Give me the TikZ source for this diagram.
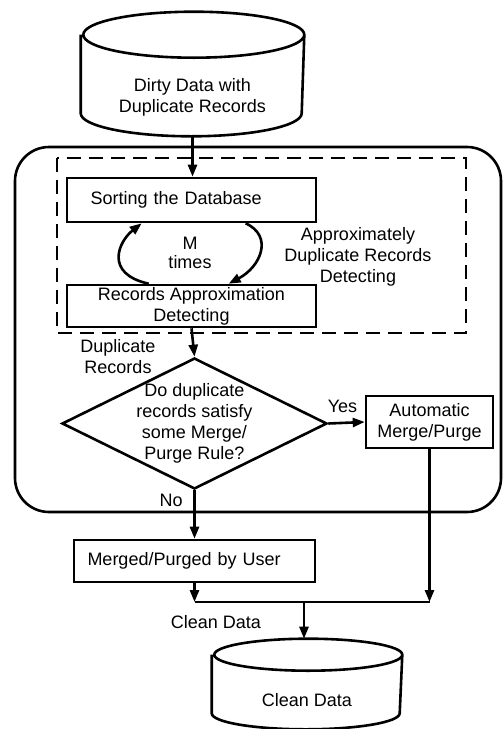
\documentclass[tikz,border=0pt]{standalone}
\usepackage{fontspec}
\setmainfont{Liberation Sans}
\usetikzlibrary{arrows.meta,positioning,calc,shapes.geometric}

% drum outline round a store node: #1 node, #2 x radius, #3 y radius
\newcommand\drum[3]{%
  \draw ([yshift=#3]#1.north west) -- ([yshift=#3]#1.south west)
    arc[start angle=180, end angle=360, x radius=#2, y radius=#3]
    -- ([yshift=#3]#1.north east)
    arc[start angle=0, end angle=360, x radius=#2, y radius=#3];}

\begin{document}
\begin{tikzpicture}[x=0.5pt, y=-0.5pt, line width=1.3pt,
  font=\fontsize{9}{10.5}\selectfont,
  >={Triangle[length=6pt,width=4.5pt]},
  box/.style={draw, rectangle, inner sep=0pt},
  store/.style={rectangle, inner sep=0pt, align=center},
  decide/.style={draw, diamond, aspect=2, inner sep=-3pt, align=center}]
  \useasboundingbox (0,0) rectangle (503,729);
  % outer frame and detecting stage
  \draw[rounded corners=17pt] (15,147) rectangle (501,512);
  \draw[dashed, dash pattern=on 7pt off 4pt] (57,158) rectangle (466,333);
  \node[store, minimum width=110.5pt, minimum height=38pt] (src) at (192.5,97) {Dirty Data with\\Duplicate Records};
  \drum{src}{55.25pt}{11.5pt}
  \node[box, minimum width=124.5pt, minimum height=22pt, text width=101pt, inner xsep=11.5pt, align=left] (sort) at (191.5,200) {Sorting the Database};
  \node[box, minimum width=124.5pt, minimum height=21pt, align=center] (rec) at (191.5,306) {Records Approximation\\Detecting};
  \node[align=center] (mt) at (190,253) {M\\[-1pt]times};
  \node[align=center] (adrd) at (358,257) {Approximately\\Duplicate Records\\Detecting};
  \node[decide, minimum width=132.5pt, minimum height=65.5pt] (dia) at (194.5,423.5) {Do duplicate\\records satisfy\\some Merge/\\Purge Rule?};
  \node[box, minimum width=63.5pt, minimum height=26pt, align=center] (auto) at (429.5,422) {Automatic\\Merge/Purge};
  \node[box, minimum width=120.5pt, minimum height=21pt, text width=107pt, inner xsep=6.5pt, align=left] (user) at (194.5,561) {Merged/Purged by User};
  \node[store, minimum width=94pt, minimum height=28pt] (clean) at (307,700) {Clean Data};
  \drum{clean}{47pt}{8pt}
  \coordinate (jl) at (user.south |- 0,602);
  \coordinate (jr) at (auto.south |- 0,602);
  \coordinate (jm) at (304,602);

  \draw[->] (src.south) -- (src.south |- sort.north);
  \draw[->] ([xshift=41.5pt]rec.north west) .. controls +(-45,-10) and +(-23,18) .. ([xshift=38pt]sort.south west);
  \draw[->] ([xshift=90pt]sort.south west) .. controls +(28,13) and +(32,-17) .. ([xshift=81.5pt]rec.north west);
  \draw[->] (rec.south) -- (dia.north);
  \node[align=center] (dup) at (118,357) {Duplicate\\Records};
  \draw[->] (dia.east) -- node[above=1pt, xshift=-2pt] {Yes} (auto.west);
  \draw[->] (dia.south) -- node[left=2pt, pos=0.2] {No} (user.north);
  \draw[->] (user.south) -- (jl);
  \draw[->] (auto.south) -- (jr);
  \draw (jl) -- (jr);
  \draw[->] (jm) -- ([yshift=16pt]jm |- clean.north);
  \node (cd) at (216,622) {Clean Data};
\end{tikzpicture}
\end{document}
